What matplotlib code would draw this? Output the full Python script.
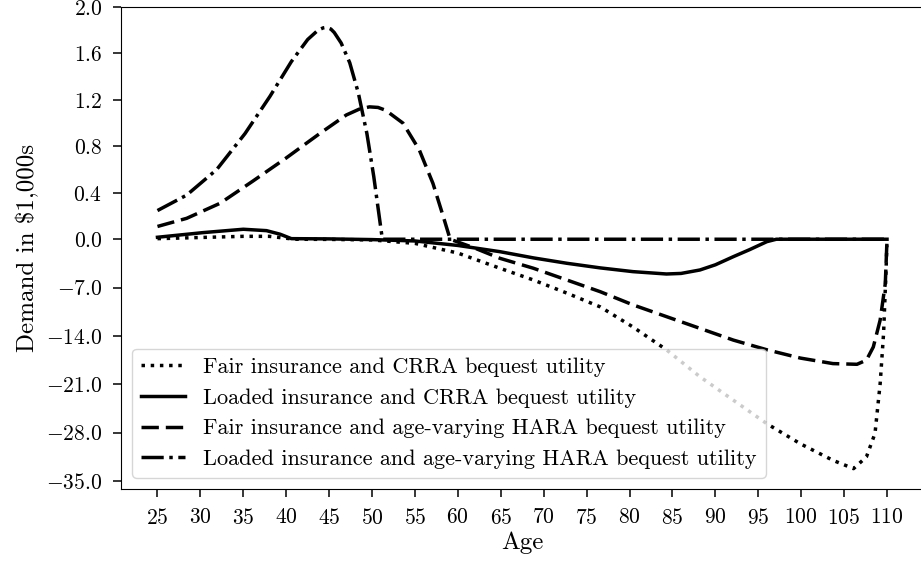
import numpy as np
import matplotlib
matplotlib.use("Agg")
import matplotlib.pyplot as plt
from matplotlib.ticker import FixedLocator, FuncFormatter

plt.rcParams['font.family'] = ['cmr10', 'DejaVu Serif']
plt.rcParams['mathtext.fontset'] = 'cm'
plt.rcParams['axes.formatter.use_mathtext'] = True
plt.rcParams['axes.unicode_minus'] = True

# ---------------- data ----------------
ages_fair_crra = [25, 30, 35, 38, 41, 45, 50, 55, 60, 64.9, 68.8, 72.7, 76.6, 80.4,
                  84.3, 88.2, 92.1, 96, 99.9, 103.7, 106.1, 107.6, 108.6, 109.2,
                  109.6, 109.9, 110]
vals_fair_crra = [0.005, 0.015, 0.025, 0.025, 0.0, -0.02, -0.1, -0.6, -2.0, -4.2,
                  -5.9, -7.8, -9.8, -12.7, -16.0, -19.9, -23.3, -26.7, -29.6, -32.0,
                  -33.2, -31.5, -28.1, -20.9, -13.6, -4.0, 0.0]

ages_loaded_crra = [25, 30.3, 35, 37.7, 39.3, 40.6, 45, 50, 55, 60, 64.9, 68.8, 72.7,
                    76.6, 80.4, 84.3, 86, 88.2, 90, 92.1, 94, 96, 97.1, 110]
vals_loaded_crra = [0.017, 0.057, 0.086, 0.074, 0.043, 0.005, 0.003, -0.05, -0.25,
                    -0.9, -1.8, -2.7, -3.48, -4.15, -4.69, -5.03, -4.95, -4.45, -3.7,
                    -2.52, -1.5, -0.35, 0.0, 0.0]

ages_fair_hara = [25, 28.4, 32.3, 36.1, 40, 43.9, 47, 48.5, 49.7, 50.7, 51.6, 53.6, 55.5,
                  57.1, 58.3, 59.1, 62, 64.9, 68.8, 72.7, 76.6, 80.4, 84.3, 88.2, 92.1,
                  96, 99.9, 103.7, 106.5, 107.6, 108.4, 109.2, 109.8, 110]
vals_fair_hara = [0.11, 0.18, 0.31, 0.50, 0.70, 0.91, 1.07, 1.12, 1.14, 1.135, 1.11,
                  1.0, 0.77, 0.48, 0.195, 0.0, -1.3, -2.76, -4.2, -5.9, -7.6, -9.5,
                  -11.2, -12.9, -14.6, -16.0, -17.2, -18.0, -18.1, -17.5, -15.6, -11.7,
                  -6.4, 0.0]

ages_loaded_hara = [25, 28.4, 31.9, 35.2, 38.1, 40.6, 42.5, 43.7, 44.3, 44.7, 45.2,
                    45.6, 46.4, 47.4, 48.4, 49.4, 50.2, 51.2, 110]
vals_loaded_hara = [0.247, 0.38, 0.60, 0.91, 1.23, 1.53, 1.72, 1.80, 1.82, 1.825, 1.81,
                    1.78, 1.69, 1.52, 1.26, 0.91, 0.54, 0.0, 0.0]

labels = ["Fair insurance and CRRA bequest utility",
          "Loaded insurance and CRRA bequest utility",
          "Fair insurance and age-varying HARA bequest utility",
          "Loaded insurance and age-varying HARA bequest utility"]

xticks = list(range(25, 111, 5))
yticks = [-35.0, -28.0, -21.0, -14.0, -7.0, 0.0, 0.4, 0.8, 1.2, 1.6, 2.0]

# ---------------- piecewise scale ----------------
K = 0.0595


def fwd(y):
    y = np.asarray(y, dtype=float)
    return np.where(y >= 0, y, y * K)


def inv(y):
    y = np.asarray(y, dtype=float)
    return np.where(y >= 0, y, y / K)


fig = plt.figure(figsize=(9.21, 5.67), dpi=100)
ax = fig.add_axes([121 / 921, 1 - 489 / 567, (923.5 - 121) / 921, (489 - 7) / 567])
ax.set_yscale('function', functions=(fwd, inv))

lw = 2.5
ax.plot(ages_fair_crra, vals_fair_crra, color='black', lw=lw, ls=':', label=labels[0])
ax.plot(ages_loaded_crra, vals_loaded_crra, color='black', lw=lw, ls='-', label=labels[1])
ax.plot(ages_fair_hara, vals_fair_hara, color='black', lw=lw, ls=(0, (5, 2)), label=labels[2])
ax.plot(ages_loaded_hara, vals_loaded_hara, color='black', lw=lw, ls='-.', label=labels[3])

ax.set_xlim(20.75, 114.25)
ax.set_ylim(-36.15, 2.0)
ax.xaxis.set_major_locator(FixedLocator(xticks))
ax.yaxis.set_major_locator(FixedLocator(yticks))
ax.yaxis.set_minor_locator(FixedLocator([]))
ax.yaxis.set_major_formatter(FuncFormatter(lambda v, p: "$%.1f$" % v))
ax.xaxis.set_major_formatter(FuncFormatter(lambda v, p: "$%d$" % v))
ax.tick_params(labelsize=15.5, length=6, width=1.1, pad=7.5)

ax.set_xlabel("Age", fontsize=18, labelpad=3)
ax.set_ylabel(r"Demand in \$1,000s", fontsize=18, labelpad=5)

ax.legend(loc='lower left', fontsize=16)

fig.savefig("out.png", dpi=100)
